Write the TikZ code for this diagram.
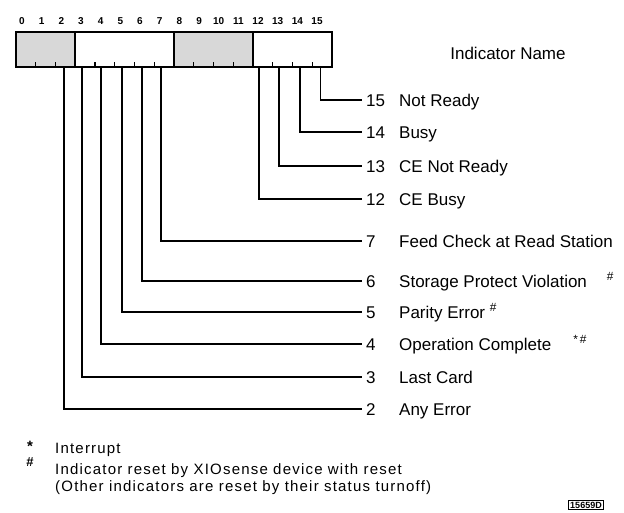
\documentclass[tikz,border=0pt]{standalone}
\usepackage{fontspec}
\setmainfont{Liberation Sans}
\newfontfamily\notefont[LetterSpace=8]{Liberation Sans}
\usetikzlibrary{positioning}
\definecolor{regGray}{RGB}{216,216,216}

\begin{document}
\begin{tikzpicture}[
  x=1pt, y=-1pt,
  bitno/.style={font=\bfseries\fontsize{10}{12}\selectfont, inner sep=0pt},
  lbl/.style={font=\fontsize{17}{20}\selectfont, anchor=west, inner xsep=4pt,
    inner ysep=0pt, text height=12pt, text depth=0pt},
  lead/.style={line width=1.4pt},
  note/.style={font=\notefont\fontsize{15}{18}\selectfont, anchor=west, inner sep=0pt},
]
  \useasboundingbox (0,0) rectangle (624,512);
  % register with its shaded fields
  \fill[regGray] (16,31.7) rectangle (75.25,66.7);
  \fill[regGray] (174,31.7) rectangle (253,66.7);
  \draw[line width=1.8pt] (16,31.7) rectangle (332,66.7);
  \draw[line width=1.8pt] (75.25,31.7) -- (75.25,66.7)
    (174,31.7) -- (174,66.7) (253,31.7) -- (253,66.7);
  \foreach \i in {1,2,4,5,6,7,9,10,11,13,14,15}
    \draw[line width=1.2pt] (16+19.75*\i,66.7) -- ++(0,-5);
  \foreach \i in {0,...,15}
    \node[bitno] (b\i) at (22+19.67*\i,21.5) {\i};
  \node[font=\fontsize{17}{20}\selectfont] (head) at (508,53) {Indicator Name};

  % lead start points
  \coordinate (p2) at (64,66.7);
  \coordinate (p3) at (82,66.7);
  \coordinate (p4) at (101,66.7);
  \coordinate (p5) at (122,66.7);
  \coordinate (p6) at (142,66.7);
  \coordinate (p7) at (161,66.7);
  \coordinate (p12) at (259,66.7);
  \coordinate (p13) at (279,66.7);
  \coordinate (p14) at (300,66.7);
  \coordinate (p15) at (320.7,66.7);

  % indicator names
  \node[lbl] (n15) at (362,100) {\makebox[33pt][l]{15}Not Ready};
  \node[lbl] (n14) at (362,132) {\makebox[33pt][l]{14}Busy};
  \node[lbl] (n13) at (362,166) {\makebox[33pt][l]{13}CE Not Ready};
  \node[lbl] (n12) at (362,199) {\makebox[33pt][l]{12}CE Busy};
  \node[lbl] (n7) at (362,241) {\makebox[33pt][l]{7}Feed Check at Read Station};
  \node[lbl] (n6) at (362,281)
    {\makebox[33pt][l]{6}Storage Protect Violation\hspace{20pt}\textsuperscript{\#}};
  \node[lbl] (n5) at (362,312) {\makebox[33pt][l]{5}Parity Error \textsuperscript{\#}};
  \node[lbl] (n4) at (362,344)
    {\makebox[33pt][l]{4}Operation Complete\hspace{22pt}\textsuperscript{*\,\#}};
  \node[lbl] (n3) at (362,377) {\makebox[33pt][l]{3}Last Card};
  \node[lbl] (n2) at (362,409) {\makebox[33pt][l]{2}Any Error};

  \draw[lead] (p15) |- (n15.west);
  \draw[lead] (p14) |- (n14.west);
  \draw[lead] (p13) |- (n13.west);
  \draw[lead] (p12) |- (n12.west);
  \draw[lead] (p7) |- (n7.west);
  \draw[lead] (p6) |- (n6.west);
  \draw[lead] (p5) |- (n5.west);
  \draw[lead] (p4) |- (n4.west);
  \draw[lead] (p3) |- (n3.west);
  \draw[lead] (p2) |- (n2.west);

  % footnotes
  \node[font=\bfseries\fontsize{15}{18}\selectfont] (star) at (30,446) {*};
  \node[note] (fn1) at (55,450) {Interrupt};
  \node[font=\bfseries\fontsize{13}{16}\selectfont] (hash) at (30,462) {\#};
  \node[note] (fn2) at (55,471) {Indicator reset by XIOsense device with reset};
  \node[note] (fn3) at (55,488) {(Other indicators are reset by their status turnoff)};
  \node[draw, line width=1pt, font=\bfseries\fontsize{9}{10}\selectfont, inner sep=1.5pt]
    (ref) at (586,505) {15659D};
\end{tikzpicture}
\end{document}
